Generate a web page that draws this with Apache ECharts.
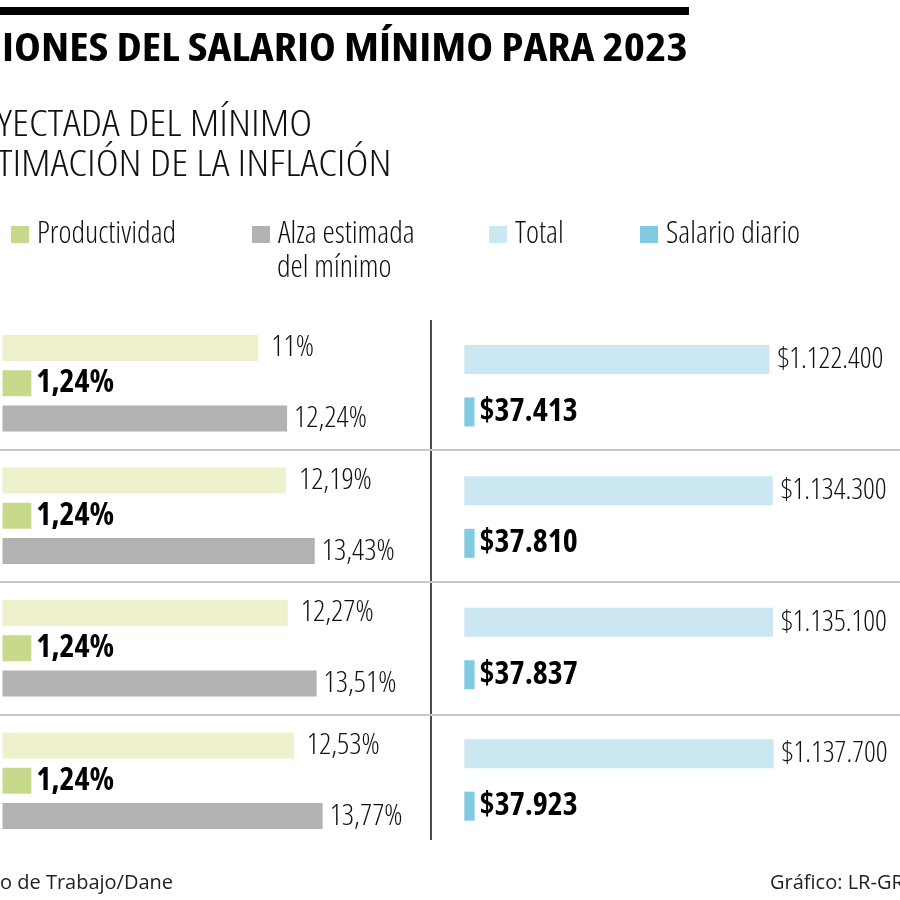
<!DOCTYPE html>
<html>
<head>
<meta charset="utf-8">
<script src="https://cdn.jsdelivr.net/npm/echarts@6/dist/echarts.min.js"></script>
<style>
html,body{margin:0;padding:0;background:#fff;}
#chart{width:900px;height:900px;}
</style>
</head>
<body>
<div id="chart"></div>
<script>
// ---- data ----
const categories = ['Escenario 1', 'Escenario 2', 'Escenario 3', 'Escenario 4'];
const inflacion = [11, 12.19, 12.27, 12.53];
const productividad = [1.24, 1.24, 1.24, 1.24];
const alzaEstimada = [12.24, 13.43, 13.51, 13.77];
const total = [1122400, 1134300, 1135100, 1137700];
const salarioDiario = [37413, 37810, 37837, 37923];

const titleText = 'IONES DEL SALARIO MÍNIMO PARA 2023';
const subtitle1 = 'YECTADA DEL MÍNIMO';
const subtitle2 = 'TIMACIÓN DE LA INFLACIÓN';
const sourceText = 'o de Trabajo/Dane';
const creditText = 'Gráfico: LR-GR';

// ---- styles ----
const OS = '"Open Sans", "Roboto Condensed", sans-serif';
const LIGHT_C = '300 condensed';
const BOLD_C = 'bold condensed';
const C_INF = '#eef1cb';
const C_PROD = '#c7da8c';
const C_ALZA = '#b2b2b2';
const C_TOTAL = '#cbe7f1';
const C_DIARIO = '#80cbe1';

const pct = v => String(v).replace('.', ',') + '%';
const money = v => '$' + String(v).replace(/\B(?=(\d{3})+(?!\d))/g, '.');

const chart = echarts.init(document.getElementById('chart'));

const lightLabel = (dist) => ({
  show: true, position: 'right', distance: dist,
  fontFamily: OS, fontWeight: LIGHT_C, fontSize: 30, color: '#111',
  formatter: p => pct(p.value)
});

const option = {
  animation: false,
  backgroundColor: '#fff',
  grid: [
    {left: 2.5, top: 317, width: 418.5, height: 530},
    {left: 464.3, top: 320, width: 435, height: 525.6},
    {left: 0, right: 0, top: 317, height: 530}
  ],
  xAxis: [
    {gridIndex: 0, type: 'value', min: 0, max: 18, show: false},
    {gridIndex: 1, type: 'value', min: 0, max: 1600000, show: false},
    {gridIndex: 2, type: 'value', min: 0, max: 1, show: false}
  ],
  yAxis: [
    {gridIndex: 0, type: 'category', data: categories, inverse: true, show: false},
    {gridIndex: 1, type: 'category', data: categories, inverse: true, show: false},
    {gridIndex: 2, type: 'category', data: categories, inverse: true,
      axisLine: {show: false}, axisTick: {show: false}, axisLabel: {show: false},
      splitLine: {show: true, showMinLine: false, showMaxLine: false,
        lineStyle: {color: '#c8c8c8', width: 2}}}
  ],
  legend: [
    {left: 11, top: 219, data: ['Productividad']},
    {left: 252, top: 219, data: ['Alza estimada del mínimo'], formatter: () => 'Alza estimada'},
    {left: 489, top: 219, data: ['Total']},
    {left: 640, top: 219, data: ['Salario diario']}
  ].map(l => Object.assign({
    icon: 'rect', itemWidth: 18, itemHeight: 17, selectedMode: false,
    padding: 0,
    textStyle: {fontFamily: OS, fontWeight: LIGHT_C, fontSize: 31, color: '#111', lineHeight: 30, padding: [0, 0, 0, 3]}
  }, l)),
  graphic: [
    {type: 'rect', left: 0, top: 7, shape: {width: 689, height: 8}, style: {fill: '#000'}},
    {type: 'text', x: 2, y: 50, scaleX: 1.163, style: {text: titleText, fontFamily: OS, fontWeight: BOLD_C, fontSize: 39, fill: '#000', verticalAlign: 'middle'}},
    {type: 'text', x: -3, y: 125, scaleX: 1.18, style: {text: subtitle1, fontFamily: OS, fontWeight: LIGHT_C, fontSize: 37, fill: '#111', verticalAlign: 'middle'}},
    {type: 'text', x: -3, y: 165, scaleX: 1.18, style: {text: subtitle2, fontFamily: OS, fontWeight: LIGHT_C, fontSize: 37, fill: '#111', verticalAlign: 'middle'}},
    {type: 'text', x: 277, y: 268, style: {text: 'del mínimo', fontFamily: OS, fontWeight: LIGHT_C, fontSize: 31, fill: '#111', verticalAlign: 'middle'}},
    {type: 'line', shape: {x1: 431, y1: 320, x2: 431, y2: 840}, style: {stroke: '#111', lineWidth: 1.5}},
    {type: 'text', x: 0, y: 883, style: {text: sourceText, fontFamily: OS, fontSize: 20, fill: '#222', verticalAlign: 'middle'}},
    {type: 'text', x: 770, y: 883, style: {text: creditText, fontFamily: OS, fontSize: 20, fill: '#222', verticalAlign: 'middle'}}
  ],
  series: [
    {name: 'Inflación', type: 'bar', xAxisIndex: 0, yAxisIndex: 0, data: inflacion,
      barWidth: 26, barGap: '36%', itemStyle: {color: C_INF}, label: lightLabel(13)},
    {name: 'Productividad', type: 'bar', xAxisIndex: 0, yAxisIndex: 0, data: productividad,
      barWidth: 26, barGap: '36%', itemStyle: {color: C_PROD},
      label: {show: true, position: 'right', distance: 5, fontFamily: OS, fontWeight: BOLD_C, fontSize: 32, color: '#000', formatter: p => pct(p.value)}},
    {name: 'Alza estimada del mínimo', type: 'bar', xAxisIndex: 0, yAxisIndex: 0, data: alzaEstimada,
      barWidth: 26, barGap: '36%', itemStyle: {color: C_ALZA}, label: lightLabel(7)},
    {name: 'Total', type: 'bar', xAxisIndex: 1, yAxisIndex: 1, data: total,
      barWidth: 29, barGap: '81%', itemStyle: {color: C_TOTAL},
      label: {show: true, position: 'right', distance: 8, fontFamily: OS, fontWeight: LIGHT_C, fontSize: 29, color: '#111', formatter: p => money(p.value)}},
    {name: 'Salario diario', type: 'bar', xAxisIndex: 1, yAxisIndex: 1, data: salarioDiario,
      barWidth: 29, barGap: '81%', itemStyle: {color: C_DIARIO},
      label: {show: true, position: 'right', distance: 5, fontFamily: OS, fontWeight: BOLD_C, fontSize: 32, color: '#000', formatter: p => money(p.value)}}
  ]
};
chart.setOption(option);
</script>
</body>
</html>
